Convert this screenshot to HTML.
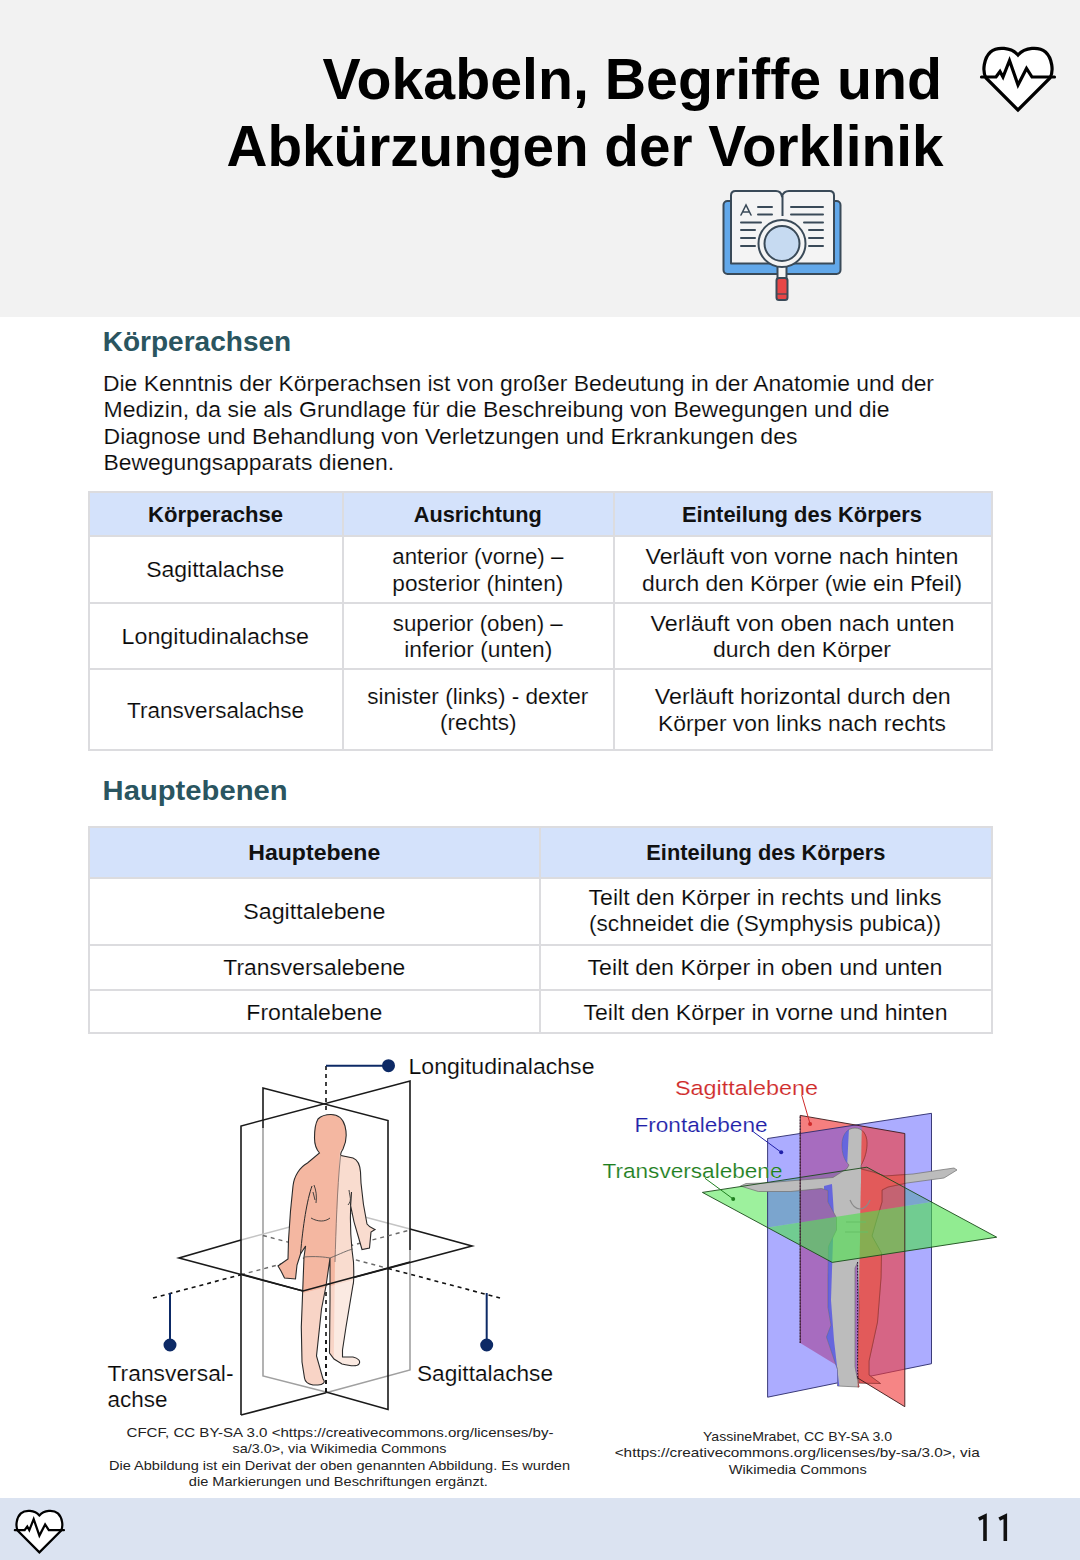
<!DOCTYPE html>
<html lang="de"><head><meta charset="utf-8"><title>Vokabeln, Begriffe und Abkürzungen der Vorklinik</title>
<style>
html,body{margin:0;padding:0;background:#fff;}
body{width:1080px;height:1560px;position:relative;overflow:hidden;font-family:"Liberation Sans", sans-serif;}
.band{position:absolute;left:0;width:1080px;}
.ln{position:absolute;}
svg{position:absolute;left:0;top:0;}
svg text{font-family:"Liberation Sans", sans-serif;}
</style></head><body>
<div class="band" style="top:0;height:316.5px;background:#f2f2f2"></div>
<div class="band" style="top:1498px;height:62px;background:#dbe3f1"></div>
<div class="ln" style="left:88px;top:491px;width:905px;height:45px;background:#d4e2fb"></div><div class="ln" style="left:88px;top:491px;width:905px;height:2px;background:#dcdcdf"></div><div class="ln" style="left:88px;top:535px;width:905px;height:2px;background:#dcdcdf"></div><div class="ln" style="left:88px;top:602px;width:905px;height:2px;background:#dcdcdf"></div><div class="ln" style="left:88px;top:668px;width:905px;height:2px;background:#dcdcdf"></div><div class="ln" style="left:88px;top:749px;width:905px;height:2px;background:#dcdcdf"></div><div class="ln" style="left:88px;top:491px;width:2px;height:260px;background:#dcdcdf"></div><div class="ln" style="left:342px;top:491px;width:2px;height:260px;background:#dcdcdf"></div><div class="ln" style="left:613px;top:491px;width:2px;height:260px;background:#dcdcdf"></div><div class="ln" style="left:991px;top:491px;width:2px;height:260px;background:#dcdcdf"></div><div class="ln" style="left:88px;top:827px;width:905px;height:51px;background:#d4e2fb"></div><div class="ln" style="left:88px;top:826px;width:905px;height:2px;background:#dcdcdf"></div><div class="ln" style="left:88px;top:877px;width:905px;height:2px;background:#dcdcdf"></div><div class="ln" style="left:88px;top:944px;width:905px;height:2px;background:#dcdcdf"></div><div class="ln" style="left:88px;top:989px;width:905px;height:2px;background:#dcdcdf"></div><div class="ln" style="left:88px;top:1032px;width:905px;height:2px;background:#dcdcdf"></div><div class="ln" style="left:88px;top:826px;width:2px;height:208px;background:#dcdcdf"></div><div class="ln" style="left:539px;top:826px;width:2px;height:208px;background:#dcdcdf"></div><div class="ln" style="left:991px;top:826px;width:2px;height:208px;background:#dcdcdf"></div>
<svg width="1080" height="1560" viewBox="0 0 1080 1560">
<g transform="translate(1018,77) scale(1)"><path d="M0,33 L-32,1 C-36,-6 -34,-19 -27.5,-25 C-21,-30.5 -7,-30 0,-22 C7,-30 21,-30.5 27.5,-25 C34,-19 36,-6 32,1 Z" fill="#fff" stroke="#000" stroke-width="3.2" stroke-linejoin="miter"/><path d="M-36.5,0 L-22,0 L-18,-5.5 L-15,0 L-8.5,-16.5 L0,8 L8.5,-8.5 L14,0 L36.5,0" fill="none" stroke="#000" stroke-width="3.2" stroke-linejoin="miter" stroke-linecap="round"/></g>
<g transform="translate(39.4,1530.2) scale(0.673)"><path d="M0,33 L-32,1 C-36,-6 -34,-19 -27.5,-25 C-21,-30.5 -7,-30 0,-22 C7,-30 21,-30.5 27.5,-25 C34,-19 36,-6 32,1 Z" fill="#fff" stroke="#000" stroke-width="3.3" stroke-linejoin="miter"/><path d="M-36.5,0 L-22,0 L-18,-5.5 L-15,0 L-8.5,-16.5 L0,8 L8.5,-8.5 L14,0 L36.5,0" fill="none" stroke="#000" stroke-width="3.3" stroke-linejoin="miter" stroke-linecap="round"/></g>
<g stroke="#3a4a58" stroke-width="2" stroke-linejoin="round">
<rect x="723.5" y="201" width="117" height="73" rx="4" fill="#62a8ea"/>
<path d="M731,263.5 L731,195.5 Q731,191 735.5,191 L776,191 Q781,191 782,196.5 Q783.5,191 789,191 L829.5,191 Q834,191 834,195.5 L834,263.5 Z" fill="#f4f4f4"/>
<line x1="782.5" y1="196" x2="782.5" y2="216"/>
</g>
<g stroke="#3a4a58" stroke-width="2" stroke-linecap="round" fill="none">
<path d="M741,215 L746,205 L751,215 M742.5,212 L749.5,212" stroke-width="1.6"/>
<line x1="758" y1="207" x2="772" y2="207"/><line x1="758" y1="214.5" x2="772" y2="214.5"/>
<line x1="791" y1="207" x2="823" y2="207"/><line x1="791" y1="214.5" x2="823" y2="214.5"/>
<line x1="741" y1="222.5" x2="761" y2="222.5"/><line x1="741" y1="230" x2="755" y2="230"/>
<line x1="741" y1="238" x2="755" y2="238"/><line x1="741" y1="246" x2="755" y2="246"/>
<line x1="804" y1="222.5" x2="823" y2="222.5"/><line x1="809" y1="230" x2="823" y2="230"/>
<line x1="809" y1="238" x2="823" y2="238"/><line x1="809" y1="246" x2="823" y2="246"/>
</g>
<g stroke="#3a4a58" stroke-width="2">
<rect x="777.5" y="266" width="9" height="13" fill="#f4f4f4"/>
<rect x="776.5" y="278" width="11" height="22" rx="2.5" fill="#e84646"/><line x1="777" y1="294" x2="787" y2="294" stroke-width="1.2"/>
<circle cx="782" cy="243.5" r="23.5" fill="#f4f4f4"/>
<circle cx="782" cy="243.5" r="17.5" fill="#c6daf1"/>
</g>
<g fill="none" stroke="#111" stroke-width="3.6" stroke-linejoin="miter" stroke-linecap="butt"><polyline points="978.8,1519.2 985,1516.2 985,1541"/><polyline points="999.2,1519.2 1005.3,1516.2 1005.3,1541"/></g>
<g fill="none" stroke-width="1.6" stroke-linejoin="miter">
<polyline points="263,1128 263,1376 326,1392" stroke="#a0a0a0"/>
<polyline points="326,1392.7 410,1370 410,1250" stroke="#a0a0a0"/>
<polyline points="241,1240 346,1212 410,1229" stroke="#c4c4c4"/>
<polyline points="263,1128 263,1088 388,1120.5 388,1409.5 326,1392" stroke="#1a1a1a"/>
<polyline points="241,1415 241,1126 410,1081 410,1250" stroke="#1a1a1a"/>
<polyline points="241,1415 326,1392.7" stroke="#1a1a1a"/>
<polyline points="241,1240 179,1258 303,1291 472,1246 410,1229" stroke="#1a1a1a"/>
</g>
<g stroke="#111" stroke-width="1.6" stroke-dasharray="4,4" fill="none">
<line x1="326" y1="1066" x2="326" y2="1114"/>
<line x1="326" y1="1292" x2="326" y2="1392"/>
<line x1="153" y1="1298" x2="241" y2="1274.7"/>
<line x1="388" y1="1268.4" x2="500" y2="1298"/>
</g>
<g stroke="#6a6a6a" stroke-width="1.4" stroke-dasharray="4,4" fill="none">
<line x1="241" y1="1274.7" x2="410" y2="1230"/>
<line x1="263" y1="1235.5" x2="388" y2="1268.4"/>
</g>
<defs><clipPath id="rb"><polygon points="340,1150 420,1150 420,1420 333,1420 335,1260"/></clipPath><clipPath id="lo"><polygon points="150,1262 303,1293 480,1247 480,1420 150,1420"/></clipPath></defs>
<path d="M331,1114.5 C338,1114.5 343,1119 345,1126 C347,1134 346,1143 343,1149 C341,1152 340,1154 341,1155.5 L353,1158 C358,1160 360,1165 360.5,1172 L361,1183 C362,1195 364,1210 367,1224 C369,1227 372,1228 375,1229.5 L371,1232 L369.5,1248 L362,1249.5 L359,1239 C356,1230 353,1220 350.5,1205 L351.5,1192 C350,1210 350,1230 352,1250 L353.5,1262 C354,1275 354,1282 353,1285 L346,1327 L342.5,1350 L342.5,1357 L353,1357 C358,1358 361,1361 359,1364 C357,1367 350,1366 342,1364 L334,1359 L329.5,1353 L330,1300 L330,1258 L326,1286 L321.5,1309 L316.5,1356 L323,1379 C326,1382 323,1385 318,1385 L313,1385 C308,1384 305,1382 304.5,1378 L302,1362 L301.3,1327 L303,1283 L304,1257 L305.6,1246 L300.5,1254 L297,1265 L295.5,1279 L284.5,1278 L281,1271 L278,1266 L288,1259 L288.5,1240 L290.5,1211 L293,1186 C294,1176 300,1167 307.5,1163 L319.5,1153 C316,1149 314.5,1144 314.5,1138 C314.5,1130 315,1124 318,1119 C321,1116 326,1114.5 331,1114.5 Z" fill="#f4b7a1" stroke="none"/>
<path d="M331,1114.5 C338,1114.5 343,1119 345,1126 C347,1134 346,1143 343,1149 C341,1152 340,1154 341,1155.5 L353,1158 C358,1160 360,1165 360.5,1172 L361,1183 C362,1195 364,1210 367,1224 C369,1227 372,1228 375,1229.5 L371,1232 L369.5,1248 L362,1249.5 L359,1239 C356,1230 353,1220 350.5,1205 L351.5,1192 C350,1210 350,1230 352,1250 L353.5,1262 C354,1275 354,1282 353,1285 L346,1327 L342.5,1350 L342.5,1357 L353,1357 C358,1358 361,1361 359,1364 C357,1367 350,1366 342,1364 L334,1359 L329.5,1353 L330,1300 L330,1258 L326,1286 L321.5,1309 L316.5,1356 L323,1379 C326,1382 323,1385 318,1385 L313,1385 C308,1384 305,1382 304.5,1378 L302,1362 L301.3,1327 L303,1283 L304,1257 L305.6,1246 L300.5,1254 L297,1265 L295.5,1279 L284.5,1278 L281,1271 L278,1266 L288,1259 L288.5,1240 L290.5,1211 L293,1186 C294,1176 300,1167 307.5,1163 L319.5,1153 C316,1149 314.5,1144 314.5,1138 C314.5,1130 315,1124 318,1119 C321,1116 326,1114.5 331,1114.5 Z" fill="#f9dccf" clip-path="url(#rb)" stroke="none"/>
<path d="M331,1114.5 C338,1114.5 343,1119 345,1126 C347,1134 346,1143 343,1149 C341,1152 340,1154 341,1155.5 L353,1158 C358,1160 360,1165 360.5,1172 L361,1183 C362,1195 364,1210 367,1224 C369,1227 372,1228 375,1229.5 L371,1232 L369.5,1248 L362,1249.5 L359,1239 C356,1230 353,1220 350.5,1205 L351.5,1192 C350,1210 350,1230 352,1250 L353.5,1262 C354,1275 354,1282 353,1285 L346,1327 L342.5,1350 L342.5,1357 L353,1357 C358,1358 361,1361 359,1364 C357,1367 350,1366 342,1364 L334,1359 L329.5,1353 L330,1300 L330,1258 L326,1286 L321.5,1309 L316.5,1356 L323,1379 C326,1382 323,1385 318,1385 L313,1385 C308,1384 305,1382 304.5,1378 L302,1362 L301.3,1327 L303,1283 L304,1257 L305.6,1246 L300.5,1254 L297,1265 L295.5,1279 L284.5,1278 L281,1271 L278,1266 L288,1259 L288.5,1240 L290.5,1211 L293,1186 C294,1176 300,1167 307.5,1163 L319.5,1153 C316,1149 314.5,1144 314.5,1138 C314.5,1130 315,1124 318,1119 C321,1116 326,1114.5 331,1114.5 Z" fill="#fff" clip-path="url(#lo)" stroke="none" opacity="0.4"/>
<path d="M331,1114.5 C338,1114.5 343,1119 345,1126 C347,1134 346,1143 343,1149 C341,1152 340,1154 341,1155.5 L353,1158 C358,1160 360,1165 360.5,1172 L361,1183 C362,1195 364,1210 367,1224 C369,1227 372,1228 375,1229.5 L371,1232 L369.5,1248 L362,1249.5 L359,1239 C356,1230 353,1220 350.5,1205 L351.5,1192 C350,1210 350,1230 352,1250 L353.5,1262 C354,1275 354,1282 353,1285 L346,1327 L342.5,1350 L342.5,1357 L353,1357 C358,1358 361,1361 359,1364 C357,1367 350,1366 342,1364 L334,1359 L329.5,1353 L330,1300 L330,1258 L326,1286 L321.5,1309 L316.5,1356 L323,1379 C326,1382 323,1385 318,1385 L313,1385 C308,1384 305,1382 304.5,1378 L302,1362 L301.3,1327 L303,1283 L304,1257 L305.6,1246 L300.5,1254 L297,1265 L295.5,1279 L284.5,1278 L281,1271 L278,1266 L288,1259 L288.5,1240 L290.5,1211 L293,1186 C294,1176 300,1167 307.5,1163 L319.5,1153 C316,1149 314.5,1144 314.5,1138 C314.5,1130 315,1124 318,1119 C321,1116 326,1114.5 331,1114.5 Z" fill="none" stroke="#2a2a2a" stroke-width="1.1"/>
<path d="M340.5,1156 C337,1190 336,1230 335,1262" fill="none" stroke="#7a6a66" stroke-width="0.8"/>
<path d="M312,1186 C307,1200 303,1225 300.5,1254" fill="none" stroke="#2a2a2a" stroke-width="1"/>
<path d="M314,1185 C316,1190 317,1196 316,1203 M313,1192 L315,1200 M311,1218 C318,1222 325,1222 330,1218 M349,1190 C350,1198 352,1200 348,1205" fill="none" stroke="#333" stroke-width="0.9"/>
<path d="M304,1257 C315,1256 325,1257 330,1258 C340,1254 348,1250 353,1249" fill="none" stroke="#555" stroke-width="0.8"/>
<polyline points="241,1274 303,1291 410,1262" fill="none" stroke="#1a1a1a" stroke-width="1.6"/>
<line x1="326" y1="1340" x2="326" y2="1392" stroke="#111" stroke-width="1.6" stroke-dasharray="4,4"/>
<g stroke="#0d2a66" stroke-width="2" fill="#0d2a66">
<line x1="326" y1="1065.7" x2="388" y2="1065.7"/><circle cx="388.5" cy="1065.7" r="5.5"/>
<line x1="170" y1="1293" x2="170" y2="1345"/><circle cx="170" cy="1345" r="5.5"/>
<line x1="486.7" y1="1293" x2="486.7" y2="1345"/><circle cx="486.7" cy="1345" r="5.5"/>
</g>
<polygon points="702.4,1192.4 866.9,1167.2 931.5,1202 767.5,1227.5" fill="#5be85b" fill-opacity="0.6"/>
<polygon points="800.2,1115.4 862,1126.1 857.5,1377.9 800.2,1343" fill="#f03a3a" fill-opacity="0.65"/>
<polygon points="767.6,1138.5 931.5,1113.3 931.5,1363.7 767.6,1397.2" fill="#5a5aff" fill-opacity="0.5" stroke="#2a2a6a" stroke-width="0.9"/>
<defs><clipPath id="mr"><polygon points="862,1120 904.8,1120 904.8,1400 857.5,1400"/></clipPath><clipPath id="ml"><polygon points="824,1186 832,1184 834,1215 833,1240 831,1300 834,1340 840,1392 824,1392"/><polygon points="842,1128 849,1128 847,1168 842,1170"/></clipPath><linearGradient id="mg" x1="0" y1="0" x2="1" y2="0"><stop offset="0" stop-color="#9a9a9a"/><stop offset="0.5" stop-color="#d0d0d0"/><stop offset="1" stop-color="#a8a8a8"/></linearGradient></defs>
<path d="M855,1128 C862,1128 867,1134 867,1143 C867,1151 865,1158 861,1165.5 L861,1169 L873,1172 L885,1176 L913,1174 L940,1170 L954,1168 L957,1170 L944,1178 L907,1183 L888,1187 L882,1190 L882,1202 L876,1222 L872,1236 L881.5,1253 L881,1278 L877.5,1322 L869,1361 L869,1375 L880.5,1383.5 L859,1383 L857.5,1366.7 L859,1307.4 L857.4,1263 L855,1268 L855,1366.7 L859,1387 L837.5,1386 L837.5,1369.6 L826.5,1337 L831,1325.2 L828,1307.4 L828,1278 L828.5,1246.3 L836.5,1230 L836.5,1217.8 L828,1202 L828,1190.5 L821.5,1188.5 L790.9,1191.5 L758.3,1191.5 L740.5,1186 L746,1183.5 L764.4,1183 L801,1180 L833,1177.5 L847,1168.5 L849,1165 C844,1160 842,1153 842,1145 C842,1135 847,1128 855,1128 Z" fill="#bcbcbc" stroke="#707070" stroke-width="0.7"/>
<path d="M855,1128 C862,1128 867,1134 867,1143 C867,1151 865,1158 861,1165.5 L861,1169 L873,1172 L885,1176 L913,1174 L940,1170 L954,1168 L957,1170 L944,1178 L907,1183 L888,1187 L882,1190 L882,1202 L876,1222 L872,1236 L881.5,1253 L881,1278 L877.5,1322 L869,1361 L869,1375 L880.5,1383.5 L859,1383 L857.5,1366.7 L859,1307.4 L857.4,1263 L855,1268 L855,1366.7 L859,1387 L837.5,1386 L837.5,1369.6 L826.5,1337 L831,1325.2 L828,1307.4 L828,1278 L828.5,1246.3 L836.5,1230 L836.5,1217.8 L828,1202 L828,1190.5 L821.5,1188.5 L790.9,1191.5 L758.3,1191.5 L740.5,1186 L746,1183.5 L764.4,1183 L801,1180 L833,1177.5 L847,1168.5 L849,1165 C844,1160 842,1153 842,1145 C842,1135 847,1128 855,1128 Z" fill="#4a4ae8" clip-path="url(#ml)" opacity="0.75"/>
<polygon points="862,1126.1 904.8,1133.5 904.8,1406.7 857.5,1377.9" fill="#f03a3a" fill-opacity="0.62"/>
<path d="M855,1128 C862,1128 867,1134 867,1143 C867,1151 865,1158 861,1165.5 L861,1169 L873,1172 L885,1176 L913,1174 L940,1170 L954,1168 L957,1170 L944,1178 L907,1183 L888,1187 L882,1190 L882,1202 L876,1222 L872,1236 L881.5,1253 L881,1278 L877.5,1322 L869,1361 L869,1375 L880.5,1383.5 L859,1383 L857.5,1366.7 L859,1307.4 L857.4,1263 L855,1268 L855,1366.7 L859,1387 L837.5,1386 L837.5,1369.6 L826.5,1337 L831,1325.2 L828,1307.4 L828,1278 L828.5,1246.3 L836.5,1230 L836.5,1217.8 L828,1202 L828,1190.5 L821.5,1188.5 L790.9,1191.5 L758.3,1191.5 L740.5,1186 L746,1183.5 L764.4,1183 L801,1180 L833,1177.5 L847,1168.5 L849,1165 C844,1160 842,1153 842,1145 C842,1135 847,1128 855,1128 Z" fill="#e25a5a" clip-path="url(#mr)" stroke="#803030" stroke-width="0.6"/>
<path d="M850,1200 C855,1212 865,1212 870,1200 M846,1222 L866,1222 M845,1232 L868,1232" fill="none" stroke="#8a8a8a" stroke-width="1.2"/>
<polygon points="767.5,1227.5 931.5,1202 996.7,1237.2 832.2,1262.4" fill="#4ee04e" fill-opacity="0.62"/>
<g fill="none" stroke="#1a1a1a" stroke-width="0.9"><polyline points="800.2,1343 800.2,1115.4 904.8,1133.5 904.8,1406.7 857,1377.6" stroke="#3a1a1a"/><polygon points="702.4,1192.4 866.9,1167.2 996.7,1237.2 832.2,1262.4" stroke="#1a4a1a"/></g>
<line x1="800.2" y1="1343" x2="800.2" y2="1115.4" stroke="#3a1a3a" stroke-width="1" stroke-dasharray="1.5,1.5"/>
<line x1="857.6" y1="1262" x2="857.6" y2="1378" stroke="#2a1030" stroke-width="1" stroke-dasharray="1.5,1.5"/>
<line x1="801.7" y1="1095" x2="810.1" y2="1123.9" stroke="#cf2a2a" stroke-width="1"/><circle cx="810.1" cy="1123.9" r="2" fill="#cf2a2a"/>
<line x1="753.2" y1="1131.7" x2="781.2" y2="1152.3" stroke="#2020a8" stroke-width="1"/><circle cx="781.2" cy="1152.3" r="2" fill="#2020a8"/>
<line x1="705" y1="1178.3" x2="733.2" y2="1199" stroke="#1f7f1f" stroke-width="1"/><circle cx="733.2" cy="1199" r="2" fill="#1f7f1f"/>
<text x="942" y="99" font-size="57.5" font-weight="700" text-anchor="end" fill="#000" textLength="619.5" lengthAdjust="spacingAndGlyphs">Vokabeln, Begriffe und</text>
<text x="943.5" y="166" font-size="57.5" font-weight="700" text-anchor="end" fill="#000" textLength="717" lengthAdjust="spacingAndGlyphs">Abkürzungen der Vorklinik</text>
<text x="102.7" y="351" font-size="28" font-weight="700" text-anchor="start" fill="#2a5560" textLength="188.5" lengthAdjust="spacingAndGlyphs">Körperachsen</text>
<text x="102.6" y="800" font-size="28" font-weight="700" text-anchor="start" fill="#2a5560" textLength="185" lengthAdjust="spacingAndGlyphs">Hauptebenen</text>
<text x="103" y="391" font-size="21.5" font-weight="400" text-anchor="start" fill="#080808" stroke="#fff" stroke-width="0.15" textLength="831" lengthAdjust="spacingAndGlyphs">Die Kenntnis der Körperachsen ist von großer Bedeutung in der Anatomie und der</text>
<text x="103.5" y="417" font-size="21.5" font-weight="400" text-anchor="start" fill="#080808" stroke="#fff" stroke-width="0.15" textLength="786" lengthAdjust="spacingAndGlyphs">Medizin, da sie als Grundlage für die Beschreibung von Bewegungen und die</text>
<text x="103.5" y="443.5" font-size="21.5" font-weight="400" text-anchor="start" fill="#080808" stroke="#fff" stroke-width="0.15" textLength="694" lengthAdjust="spacingAndGlyphs">Diagnose und Behandlung von Verletzungen und Erkrankungen des</text>
<text x="103.5" y="469.5" font-size="21.5" font-weight="400" text-anchor="start" fill="#080808" stroke="#fff" stroke-width="0.15" textLength="290.5" lengthAdjust="spacingAndGlyphs">Bewegungsapparats dienen.</text>
<text x="215.5" y="522" font-size="21.5" font-weight="700" text-anchor="middle" fill="#111" textLength="135" lengthAdjust="spacingAndGlyphs">Körperachse</text>
<text x="477.8" y="522" font-size="21.5" font-weight="700" text-anchor="middle" fill="#111" textLength="128" lengthAdjust="spacingAndGlyphs">Ausrichtung</text>
<text x="802" y="522" font-size="21.5" font-weight="700" text-anchor="middle" fill="#111" textLength="240" lengthAdjust="spacingAndGlyphs">Einteilung des Körpers</text>
<text x="215.2" y="577" font-size="21.5" font-weight="400" text-anchor="middle" fill="#080808" stroke="#fff" stroke-width="0.15" textLength="138" lengthAdjust="spacingAndGlyphs">Sagittalachse</text>
<text x="215.3" y="644" font-size="21.5" font-weight="400" text-anchor="middle" fill="#080808" stroke="#fff" stroke-width="0.15" textLength="187.5" lengthAdjust="spacingAndGlyphs">Longitudinalachse</text>
<text x="215.6" y="718" font-size="21.5" font-weight="400" text-anchor="middle" fill="#080808" stroke="#fff" stroke-width="0.15" textLength="177" lengthAdjust="spacingAndGlyphs">Transversalachse</text>
<text x="477.8" y="564" font-size="21.5" font-weight="400" text-anchor="middle" fill="#080808" stroke="#fff" stroke-width="0.15" textLength="171" lengthAdjust="spacingAndGlyphs">anterior (vorne) –</text>
<text x="477.8" y="590.5" font-size="21.5" font-weight="400" text-anchor="middle" fill="#080808" stroke="#fff" stroke-width="0.15" textLength="171" lengthAdjust="spacingAndGlyphs">posterior (hinten)</text>
<text x="477.8" y="631" font-size="21.5" font-weight="400" text-anchor="middle" fill="#080808" stroke="#fff" stroke-width="0.15" textLength="170" lengthAdjust="spacingAndGlyphs">superior (oben) –</text>
<text x="478.3" y="657" font-size="21.5" font-weight="400" text-anchor="middle" fill="#080808" stroke="#fff" stroke-width="0.15" textLength="148" lengthAdjust="spacingAndGlyphs">inferior (unten)</text>
<text x="477.8" y="703.5" font-size="21.5" font-weight="400" text-anchor="middle" fill="#080808" stroke="#fff" stroke-width="0.15" textLength="221" lengthAdjust="spacingAndGlyphs">sinister (links) - dexter</text>
<text x="478.3" y="730" font-size="21.5" font-weight="400" text-anchor="middle" fill="#080808" stroke="#fff" stroke-width="0.15" textLength="76.5" lengthAdjust="spacingAndGlyphs">(rechts)</text>
<text x="802" y="564" font-size="21.5" font-weight="400" text-anchor="middle" fill="#080808" stroke="#fff" stroke-width="0.15" textLength="313" lengthAdjust="spacingAndGlyphs">Verläuft von vorne nach hinten</text>
<text x="802" y="591" font-size="21.5" font-weight="400" text-anchor="middle" fill="#080808" stroke="#fff" stroke-width="0.15" textLength="320" lengthAdjust="spacingAndGlyphs">durch den Körper (wie ein Pfeil)</text>
<text x="802.5" y="631" font-size="21.5" font-weight="400" text-anchor="middle" fill="#080808" stroke="#fff" stroke-width="0.15" textLength="304" lengthAdjust="spacingAndGlyphs">Verläuft von oben nach unten</text>
<text x="802" y="657" font-size="21.5" font-weight="400" text-anchor="middle" fill="#080808" stroke="#fff" stroke-width="0.15" textLength="178" lengthAdjust="spacingAndGlyphs">durch den Körper</text>
<text x="802.8" y="703.5" font-size="21.5" font-weight="400" text-anchor="middle" fill="#080808" stroke="#fff" stroke-width="0.15" textLength="296" lengthAdjust="spacingAndGlyphs">Verläuft horizontal durch den</text>
<text x="802" y="730.5" font-size="21.5" font-weight="400" text-anchor="middle" fill="#080808" stroke="#fff" stroke-width="0.15" textLength="288" lengthAdjust="spacingAndGlyphs">Körper von links nach rechts</text>
<text x="314.3" y="860" font-size="21.5" font-weight="700" text-anchor="middle" fill="#111" textLength="132" lengthAdjust="spacingAndGlyphs">Hauptebene</text>
<text x="765.8" y="859.5" font-size="21.5" font-weight="700" text-anchor="middle" fill="#111" textLength="239" lengthAdjust="spacingAndGlyphs">Einteilung des Körpers</text>
<text x="314.3" y="919" font-size="21.5" font-weight="400" text-anchor="middle" fill="#080808" stroke="#fff" stroke-width="0.15" textLength="142" lengthAdjust="spacingAndGlyphs">Sagittalebene</text>
<text x="314.3" y="975" font-size="21.5" font-weight="400" text-anchor="middle" fill="#080808" stroke="#fff" stroke-width="0.15" textLength="182" lengthAdjust="spacingAndGlyphs">Transversalebene</text>
<text x="314.3" y="1020" font-size="21.5" font-weight="400" text-anchor="middle" fill="#080808" stroke="#fff" stroke-width="0.15" textLength="136" lengthAdjust="spacingAndGlyphs">Frontalebene</text>
<text x="765" y="905" font-size="21.5" font-weight="400" text-anchor="middle" fill="#080808" stroke="#fff" stroke-width="0.15" textLength="353" lengthAdjust="spacingAndGlyphs">Teilt den Körper in rechts und links</text>
<text x="765" y="931" font-size="21.5" font-weight="400" text-anchor="middle" fill="#080808" stroke="#fff" stroke-width="0.15" textLength="352" lengthAdjust="spacingAndGlyphs">(schneidet die (Symphysis pubica))</text>
<text x="765" y="974.5" font-size="21.5" font-weight="400" text-anchor="middle" fill="#080808" stroke="#fff" stroke-width="0.15" textLength="355" lengthAdjust="spacingAndGlyphs">Teilt den Körper in oben und unten</text>
<text x="765.5" y="1020.3" font-size="21.5" font-weight="400" text-anchor="middle" fill="#080808" stroke="#fff" stroke-width="0.15" textLength="364" lengthAdjust="spacingAndGlyphs">Teilt den Körper in vorne und hinten</text>
<text x="408.5" y="1074" font-size="21.5" font-weight="400" text-anchor="start" fill="#080808" stroke="#fff" stroke-width="0.15" textLength="186" lengthAdjust="spacingAndGlyphs">Longitudinalachse</text>
<text x="107.5" y="1381" font-size="21.5" font-weight="400" text-anchor="start" fill="#080808" stroke="#fff" stroke-width="0.15" textLength="126" lengthAdjust="spacingAndGlyphs">Transversal-</text>
<text x="107.5" y="1407" font-size="21.5" font-weight="400" text-anchor="start" fill="#080808" stroke="#fff" stroke-width="0.15" textLength="60" lengthAdjust="spacingAndGlyphs">achse</text>
<text x="417" y="1381" font-size="21.5" font-weight="400" text-anchor="start" fill="#080808" stroke="#fff" stroke-width="0.15" textLength="136" lengthAdjust="spacingAndGlyphs">Sagittalachse</text>
<text x="340" y="1436.5" font-size="13.5" font-weight="400" text-anchor="middle" fill="#222" textLength="427" lengthAdjust="spacingAndGlyphs">CFCF, CC BY-SA 3.0 &lt;https://creativecommons.org/licenses/by-</text>
<text x="339.5" y="1453" font-size="13.5" font-weight="400" text-anchor="middle" fill="#222" textLength="214" lengthAdjust="spacingAndGlyphs">sa/3.0&gt;, via Wikimedia Commons</text>
<text x="339.5" y="1469.5" font-size="13.5" font-weight="400" text-anchor="middle" fill="#222" textLength="461" lengthAdjust="spacingAndGlyphs">Die Abbildung ist ein Derivat der oben genannten Abbildung. Es wurden</text>
<text x="338.3" y="1486" font-size="13.5" font-weight="400" text-anchor="middle" fill="#222" textLength="299" lengthAdjust="spacingAndGlyphs">die Markierungen und Beschriftungen ergänzt.</text>
<text x="797.5" y="1440.5" font-size="13.5" font-weight="400" text-anchor="middle" fill="#222" textLength="189" lengthAdjust="spacingAndGlyphs">YassineMrabet, CC BY-SA 3.0</text>
<text x="797.2" y="1457" font-size="13.5" font-weight="400" text-anchor="middle" fill="#222" textLength="365" lengthAdjust="spacingAndGlyphs">&lt;https://creativecommons.org/licenses/by-sa/3.0&gt;, via</text>
<text x="797.8" y="1473.7" font-size="13.5" font-weight="400" text-anchor="middle" fill="#222" textLength="138" lengthAdjust="spacingAndGlyphs">Wikimedia Commons</text>
<text x="675" y="1094.6" font-size="20.5" font-weight="400" text-anchor="start" fill="#cf2a2a" stroke="#fff" stroke-width="0.15" textLength="143" lengthAdjust="spacingAndGlyphs">Sagittalebene</text>
<text x="634.5" y="1131.7" font-size="20.5" font-weight="400" text-anchor="start" fill="#2020a8" stroke="#fff" stroke-width="0.15" textLength="133" lengthAdjust="spacingAndGlyphs">Frontalebene</text>
<text x="602.5" y="1178" font-size="20.5" font-weight="400" text-anchor="start" fill="#1f7f1f" stroke="#fff" stroke-width="0.15" textLength="180" lengthAdjust="spacingAndGlyphs">Transversalebene</text>
</svg>
</body></html>
